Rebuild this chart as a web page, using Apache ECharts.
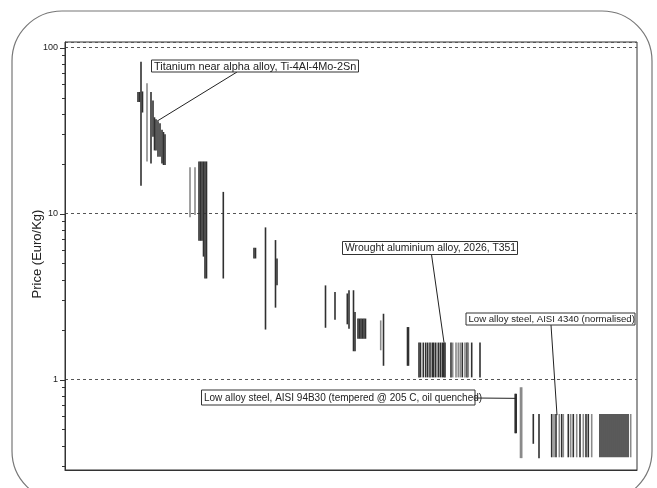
<!DOCTYPE html>
<html><head><meta charset="utf-8">
<script src="https://cdn.jsdelivr.net/npm/echarts@6/dist/echarts.min.js"></script>
<style>html,body{margin:0;padding:0;background:#fff}#c{width:657px;height:488px}</style>
</head><body><div id="c"></div>
<script>
// Price ranges, each bar: [material position along the chart, min price, max price] in Euro/Kg
const titaniumBars = [[73,47,54],[74.5,47,54],[76,14.7,82],[77.5,40.6,54.4],[86,20,54],[88,29,48],[89.5,24,38],[91,24,37],[93,22,36],[95,22,35],[97,20,32],[98.5,19.6,31],[100,19.6,30]];
const tier2Bars = [[134,6.85,20.6],[135.5,6.85,20.6],[137,6.85,20.6],[138.5,5.5,20.6],[140,4.06,20.6],[141.5,4.06,20.6],[158.3,4.06,13.5]];
const tier3Bars = [[189,5.36,6.22],[190.5,5.36,6.22],[200.5,2.0,8.25],[210.5,2.71,6.92],[212,3.70,5.36]];
const tier4Bars = [[260.5,2.05,3.69],[270,2.29,3.37],[282.3,2.15,3.30],[284,2.02,3.45],[288.5,1.48,3.45],[290,1.48,2.55],[293,1.76,2.33],[294.5,1.76,2.33],[296,1.76,2.33],[297.5,1.76,2.33],[299,1.76,2.33],[300.5,1.76,2.33],[318.5,1.21,2.49],[342.5,1.21,2.07],[343.5,1.21,2.07]];
const aluminiumBars = [[354,1.03,1.67],[355.5,1.03,1.67],[358.3,1.03,1.67],[360.7,1.03,1.67],[362.7,1.03,1.67],[365,1.03,1.67],[367.3,1.03,1.67],[368.7,1.03,1.67],[370.7,1.03,1.67],[373.3,1.03,1.67],[375.3,1.03,1.67],[377.3,1.03,1.67],[378.7,1.03,1.67],[380,1.03,1.67],[386,1.03,1.67],[397.3,1.03,1.67],[402,1.03,1.67],[406.7,1.03,1.67],[415,1.03,1.67]];
const steelBars = [[450.2,0.474,0.82],[451.2,0.474,0.82],[468.3,0.41,0.62],[474,0.336,0.62],[486.7,0.34,0.62],[491,0.34,0.62],[496.7,0.34,0.62],[503.3,0.34,0.62],[508.3,0.34,0.62],[515,0.34,0.62],[521,0.34,0.62],[523.3,0.34,0.62],[535,0.34,0.62],[537,0.34,0.62],[539,0.34,0.62],[541,0.34,0.62],[543,0.34,0.62],[545,0.34,0.62],[547,0.34,0.62],[549,0.34,0.62],[551,0.34,0.62],[553,0.34,0.62],[555,0.34,0.62],[557,0.34,0.62],[559,0.34,0.62],[561,0.34,0.62],[563,0.34,0.62]];
const greyBars = [[82,20.6,61],[125,9.5,19],[130,9.8,19],[315.7,1.50,2.27],[387.7,1.03,1.67],[391,1.03,1.67],[393.3,1.03,1.67],[395.3,1.03,1.67],[400,1.03,1.67],[403.3,1.03,1.67],[455.5,0.336,0.898],[456.7,0.336,0.898],[489,0.34,0.62],[494.3,0.34,0.62],[498.3,0.34,0.62],[505.7,0.34,0.62],[511.7,0.34,0.62],[518.3,0.34,0.62],[526.7,0.34,0.62],[565.7,0.34,0.62]];

const majorTicks = [1, 10, 100];
const minorTicks = [0.3,0.4,0.5,0.6,0.7,0.8,0.9,2,3,4,5,6,7,8,9,20,30,40,50,60,70,80,90];

const annotationTexts = ['Titanium near alpha alloy, Ti-4Al-4Mo-2Sn','Wrought aluminium alloy, 2026, T351','Low alloy steel, AISI 4340 (normalised)','Low alloy steel, AISI 94B30 (tempered @ 205 C, oil quenched)'];
const annotationTargets = [[92,36],[379,1.67],[492,0.61],[450.7,0.77]];

const yMin = 0.285, yMax = 108, xMax = 572;

const chart = echarts.init(document.getElementById('c'), null, {renderer:'canvas'});

function rangeRender(params, api) {
  const x = api.value(0), lo = api.value(1), hi = api.value(2);
  const top = api.coord([x, hi]), bot = api.coord([x, lo]);
  const w = 1.6;
  return {type:'rect', shape:{x: top[0] - w/2, y: top[1], width: w, height: bot[1] - top[1]}, style:{fill: api.visual('color')}};
}
function tickRender(len) {
  return function(params, api) {
    const p = api.coord([0, api.value(1)]);
    return {type:'line', shape:{x1: p[0] - len, y1: Math.round(p[1]) + 0.5, x2: p[0], y2: Math.round(p[1]) + 0.5}, style:{stroke:'#333', lineWidth:1}};
  };
}

const darkData = [].concat(titaniumBars, tier2Bars, tier3Bars, tier4Bars, aluminiumBars, steelBars);

chart.setOption({
  animation:false,
  backgroundColor:'#fff',
  grid:{left:65, right:20, top:42, bottom:18, show:true, borderColor:'#333', borderWidth:1, backgroundColor:'transparent'},
  xAxis:{type:'value', min:0, max:xMax, axisLine:{show:true, onZero:false, lineStyle:{color:'#333'}}, axisTick:{show:false}, axisLabel:{show:false}, splitLine:{show:false}},
  yAxis:{type:'log', logBase:10, min:yMin, max:yMax,
    axisLine:{show:true, lineStyle:{color:'#333'}},
    axisTick:{show:false},
    axisLabel:{fontSize:9, color:'#222', margin:7, fontFamily:'Liberation Sans, Arial, sans-serif', showMinLabel:false, showMaxLabel:false,
      formatter:function(v){ const l = Math.log10(v); return Math.abs(l - Math.round(l)) < 1e-6 ? String(Math.round(Math.pow(10, Math.round(l)) * 1000) / 1000) : ''; }},
    splitLine:{show:true, lineStyle:{type:[3,3], color:'#555', width:1}}
  },
  series:[
    {type:'custom', name:'ranges', renderItem:rangeRender, encode:{x:0, y:[1,2]}, data:darkData, itemStyle:{color:'#303030'}},
    {type:'custom', name:'other grades', renderItem:rangeRender, encode:{x:0, y:[1,2]}, data:greyBars, itemStyle:{color:'#8a8a8a'}},
    {type:'custom', name:'major ticks', renderItem:tickRender(5), encode:{x:0, y:1}, data:majorTicks.map(v => [0, v]), clip:false, silent:true},
    {type:'custom', name:'minor ticks', renderItem:tickRender(3), encode:{x:0, y:1}, data:minorTicks.map(v => [0, v]), clip:false, silent:true}
  ]
});

// annotation boxes (layout in pixels), leaders point to data
const boxes = [
  {x:151.5, y:60, w:207, h:12, fs:10.9},
  {x:342.5, y:241.5, w:175, h:13, fs:10.4},
  {x:466, y:313, w:169, h:12, fs:9.6},
  {x:201.5, y:390, w:273.5, h:15, fs:10}
];
const leaderStart = [[237,72],[431.5,254.5],[551,325],[475,398]];
const font = 'Liberation Sans, Arial, sans-serif';
const graphics = [
  {type:'rect', z:-10, shape:{x:12, y:11, width:640, height:490, r:50}, style:{fill:null, stroke:'#777', lineWidth:1.2}},
  {type:'text', x:37, y:254, rotation:Math.PI/2, style:{text:'Price (Euro/Kg)', font:'13px ' + font, fill:'#222', align:'center', verticalAlign:'middle'}}
];
annotationTexts.forEach(function(t, i){
  const b = boxes[i];
  const target = chart.convertToPixel({xAxisIndex:0, yAxisIndex:0}, annotationTargets[i]);
  graphics.push({type:'line', z:20, shape:{x1:leaderStart[i][0], y1:leaderStart[i][1], x2:target[0], y2:target[1]}, style:{stroke:'#222', lineWidth:1}});
  graphics.push({type:'rect', z:21, shape:{x:b.x, y:b.y, width:b.w, height:b.h}, style:{fill:'#fff', stroke:'#333', lineWidth:1}});
  graphics.push({type:'text', z:22, x:b.x + 2.5, y:b.y + b.h/2 + 0.5, style:{text:t, font:b.fs + 'px ' + font, fill:'#222', align:'left', verticalAlign:'middle'}});
});
chart.setOption({graphic:graphics});
</script>
</body></html>
